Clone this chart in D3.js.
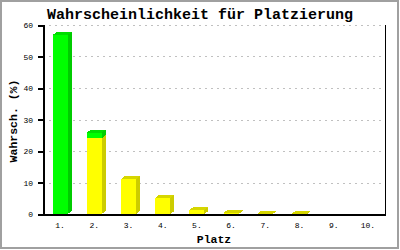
<!DOCTYPE html>
<html><head><meta charset="utf-8">
<script src="https://cdn.jsdelivr.net/npm/d3@7"></script>
<style>body{margin:0;background:#fff}svg{display:block}</style>
</head><body>
<script>
const categories = ["1.","2.","3.","4.","5.","6.","7.","8.","9.","10."];
const yellowValues = [0, 24.1, 11.1, 5.1, 1.3, 0.4, 0.15, 0.15, 0, 0];
const greenValues  = [56.8, 1.7, 0, 0, 0, 0, 0, 0, 0, 0];
const yTicks = [0,10,20,30,40,50,60];

(function(){
const W=400,H=250;
const svg=d3.select("body").append("svg").attr("width",W).attr("height",H);
svg.append("rect").attr("x",1).attr("y",1).attr("width",397).attr("height",247)
  .attr("fill","#fff").attr("stroke","#a0a0a0").attr("stroke-width",2);

const pL=43,pR=385,pT=25,pB=214;
const x=d3.scaleBand().domain(categories).range([pL,pR]).paddingInner(0.56).paddingOuter(0.28);
const y=d3.scaleLinear().domain([0,60]).range([pB,pT]);

// grid
svg.append("g").selectAll("line").data(yTicks.filter(d=>d>0)).join("line")
  .attr("x1",pL).attr("x2",pR)
  .attr("y1",d=>Math.round(y(d))+0.5).attr("y2",d=>Math.round(y(d))+0.5)
  .attr("stroke","#c0c0c0").attr("stroke-dasharray","2,4");

const dx=4,dy=3;
const colors={yellow:{front:"#ffff00",side:"#cccc00",top:"#d6d600"},green:{front:"#00ff00",side:"#00cc00",top:"#00dd00"}};
const g=svg.append("g").attr("shape-rendering","crispEdges");
categories.forEach((c,i)=>{
  const segs=[];
  let base=0;
  if(yellowValues[i]>0){segs.push({c:colors.yellow,v0:base,v1:base+yellowValues[i]});base+=yellowValues[i];}
  if(greenValues[i]>0){segs.push({c:colors.green,v0:base,v1:base+greenValues[i]});base+=greenValues[i];}
  const bx=x(c), bw=x.bandwidth();
  segs.forEach((s,k)=>{
    const yt=y(s.v1), yb=y(s.v0);
    g.append("polygon").attr("points",[[bx+bw,yt],[bx+bw+dx,yt-dy],[bx+bw+dx,yb-dy],[bx+bw,yb]].join(" ")).attr("fill",s.c.side);
    g.append("rect").attr("x",bx).attr("y",yt).attr("width",bw).attr("height",yb-yt).attr("fill",s.c.front);
    if(k===segs.length-1){
      g.append("polygon").attr("points",[[bx,yt],[bx+dx,yt-dy],[bx+bw+dx,yt-dy],[bx+bw,yt]].join(" ")).attr("fill",s.c.top);
    }
  });
});

// axes lines
const ax=svg.append("g").attr("shape-rendering","crispEdges");
ax.append("line").attr("x1",pL+0.5).attr("x2",pL+0.5).attr("y1",pT).attr("y2",pB+1).attr("stroke","#000").attr("stroke-width",2);
ax.append("line").attr("x1",pL).attr("x2",pR+1).attr("y1",pB+0.5).attr("y2",pB+0.5).attr("stroke","#000").attr("stroke-width",2);
ax.append("line").attr("x1",pR+0.5).attr("x2",pR+0.5).attr("y1",pT).attr("y2",pB).attr("stroke","#000");

const yAxis=d3.axisLeft(y).tickValues(yTicks).tickSize(5).tickPadding(5).tickFormat(d3.format("d"));
const yg=svg.append("g").attr("transform",`translate(${pL},0)`).call(yAxis);
yg.select(".domain").remove();
yg.selectAll("line").attr("stroke","#000").attr("stroke-width",2).attr("shape-rendering","crispEdges");
yg.selectAll("text").attr("font-family","Liberation Mono").attr("font-size",8).attr("fill","#000");

const xAxis=d3.axisBottom(x).tickSize(0).tickPadding(8);
const xg=svg.append("g").attr("transform",`translate(0,${pB})`).call(xAxis);
xg.select(".domain").remove();
xg.selectAll("text").attr("font-family","Liberation Mono").attr("font-size",8).attr("fill","#000");

svg.append("text").attr("x",200).attr("y",19).attr("text-anchor","middle")
  .attr("font-family","Liberation Mono").attr("font-weight","bold").attr("font-size",15)
  .text("Wahrscheinlichkeit für Platzierung");
svg.append("text").attr("x",214).attr("y",243).attr("text-anchor","middle")
  .attr("font-family","Liberation Mono").attr("font-weight","bold").attr("font-size",11.5)
  .text("Platz");
svg.append("text").attr("transform","translate(17,121) rotate(-90)").attr("text-anchor","middle")
  .attr("font-family","Liberation Mono").attr("font-weight","bold").attr("font-size",11.5)
  .text("Wahrsch. (%)");
})();
</script>
</body></html>
